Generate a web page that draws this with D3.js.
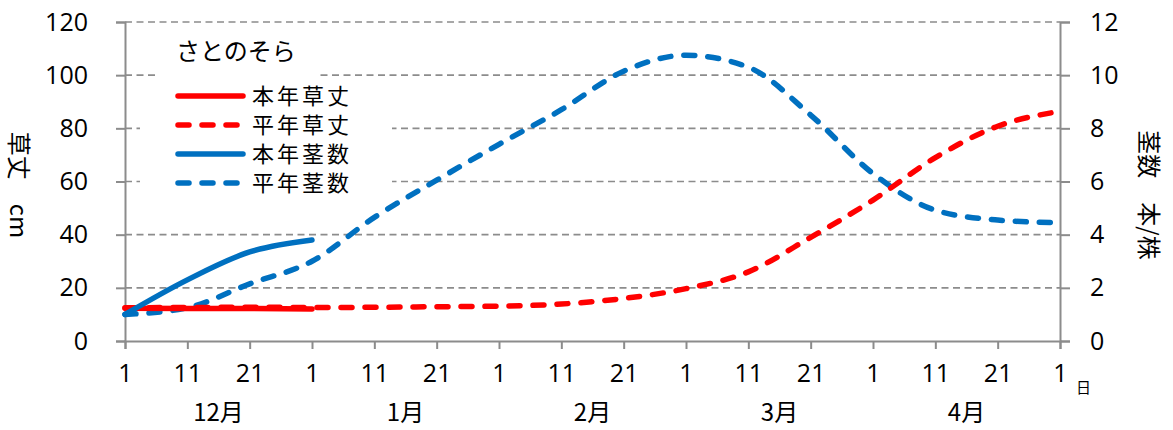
<!DOCTYPE html>
<html><head><meta charset="utf-8">
<script src="https://cdn.jsdelivr.net/npm/d3@7"></script>
<style>
html,body{margin:0;padding:0;background:#fff;}
svg{display:block;}
.num{font-family:"Open Sans",sans-serif;font-size:25px;fill:#000;}
.jp{font-family:"Noto Sans CJK JP",sans-serif;fill:#000;}
</style></head>
<body>
<svg id="chart" width="1173" height="430"></svg>
<script>
// ---- data ----
const dayLabels = ["1","11","21","1","11","21","1","11","21","1","11","21","1","11","21","1"];
const monthLabels = ["12月","1月","2月","3月","4月"];
const leftTicks = [0,20,40,60,80,100,120];
const rightTicks = [0,2,4,6,8,10,12];
const heightNormal = [12.5,12.6,12.7,12.6,12.7,12.9,13.1,13.9,16.0,19.7,26.0,39.0,53.0,69.0,80.8,86.4]; // 平年草丈
const heightThisYear = [12.3,12.2,12.2,12.0]; // 本年草丈
const stemsNormal = [1.0,1.25,2.15,3.0,4.65,6.05,7.4,8.7,10.15,10.75,10.3,8.5,6.3,4.92,4.55,4.45]; // 平年茎数
const stemsThisYear = [1.0,2.3,3.35,3.8]; // 本年茎数
const legendTitle = "さとのそら";
const seriesNames = ["本年草丈","平年草丈","本年茎数","平年茎数"];

// ---- layout ----
const svg = d3.select("#chart");
const X0 = 125, X1 = 1060, YT = 22, YB = 341;
const x = d3.scaleLinear().domain([0, dayLabels.length - 1]).range([X0, X1]);
const yL = d3.scaleLinear().domain([0,120]).range([YB, YT]);
const yR = d3.scaleLinear().domain([0,12]).range([YB, YT]);
const RED = "#ff0000", BLUE = "#0070c0", GRID = "#8c8c8c";

// gridlines
svg.append("g").selectAll("line").data(leftTicks.filter(d => d > 0)).join("line")
  .attr("x1", X0).attr("x2", X1)
  .attr("y1", d => yL(d)).attr("y2", d => yL(d))
  .attr("stroke", GRID).attr("stroke-width", 1.6).attr("stroke-dasharray", "7,4.5");

// axes
const axL = svg.append("g").attr("transform", `translate(${X0},0)`)
  .call(d3.axisLeft(yL).tickValues(leftTicks).tickSize(9).tickPadding(37));
const axR = svg.append("g").attr("transform", `translate(${X1},0)`)
  .call(d3.axisRight(yR).tickValues(rightTicks).tickSize(10).tickPadding(20));
const axB = svg.append("g").attr("transform", `translate(0,${YB})`)
  .call(d3.axisBottom(x).tickValues(d3.range(dayLabels.length)).tickFormat(i => dayLabels[i]).tickSize(8).tickPadding(15));
[axL, axR, axB].forEach(a => {
  a.select(".domain").attr("stroke", GRID).attr("stroke-width", 2);
  a.selectAll(".tick line").attr("stroke", GRID).attr("stroke-width", 2);
  a.selectAll(".tick text").attr("class", "num").attr("fill", "#000");
});
axL.selectAll(".tick text").attr("text-anchor", "end").attr("x", -37);
axR.selectAll(".tick text").attr("x", 30);

// month labels
svg.append("g").selectAll("text").data(monthLabels).join("text")
  .attr("class", "jp").attr("font-size", 24)
  .attr("x", (d, i) => x(i * 3 + 1.5)).attr("y", 421)
  .attr("text-anchor", "middle").text(d => d);
svg.append("text").attr("class", "jp").attr("font-size", 15)
  .attr("x", 1076).attr("y", 393).text("日");

// axis titles
svg.append("text").attr("class", "jp").attr("font-size", 24)
  .attr("transform", "translate(10,185) rotate(90)")
  .attr("text-anchor", "middle").text("草丈　cm");
svg.append("text").attr("class", "jp").attr("font-size", 24)
  .attr("transform", "translate(1140,195) rotate(90)")
  .attr("text-anchor", "middle").text("茎数　本/株");

// series lines
const lineL = d3.line().x((d, i) => x(i)).y(d => yL(d)).curve(d3.curveMonotoneX);
const lineR = d3.line().x((d, i) => x(i)).y(d => yR(d)).curve(d3.curveMonotoneX);
const series = [
  {data: stemsNormal, gen: lineR, color: BLUE, dash: "11,13"},
  {data: heightNormal, gen: lineL, color: RED, dash: "11,13"},
  {data: heightThisYear, gen: lineL, color: RED, dash: null},
  {data: stemsThisYear, gen: lineR, color: BLUE, dash: null}
];
svg.append("g").selectAll("path").data(series).join("path")
  .attr("d", s => s.gen(s.data))
  .attr("fill", "none").attr("stroke", s => s.color).attr("stroke-width", 5.5)
  .attr("stroke-linecap", "round").attr("stroke-linejoin", "round")
  .attr("stroke-dasharray", s => s.dash);

// legend boxes
svg.append("rect").attr("x", 155).attr("y", 32).attr("width", 163).attr("height", 48).attr("fill", "#fff");
svg.append("rect").attr("x", 140).attr("y", 80).attr("width", 252).attr("height", 120).attr("fill", "#fff");
svg.append("text").attr("class", "jp").attr("font-size", 24)
  .attr("x", 176).attr("y", 60).text(legendTitle);
const legItems = [
  {name: seriesNames[0], color: RED, dash: null},
  {name: seriesNames[1], color: RED, dash: "11,13"},
  {name: seriesNames[2], color: BLUE, dash: null},
  {name: seriesNames[3], color: BLUE, dash: "11,13"}
];
const lg = svg.append("g").selectAll("g").data(legItems).join("g")
  .attr("transform", (d, i) => `translate(0,${96 + i * 29})`);
lg.append("line").attr("x1", 178).attr("x2", 243).attr("y1", 0).attr("y2", 0)
  .attr("stroke", d => d.color).attr("stroke-width", 5.5).attr("stroke-linecap", "round")
  .attr("stroke-dasharray", d => d.dash);
lg.append("text").attr("class", "jp").attr("font-size", 22).attr("letter-spacing", 3)
  .attr("x", 252).attr("y", 8).text(d => d.name);
</script>
</body></html>
